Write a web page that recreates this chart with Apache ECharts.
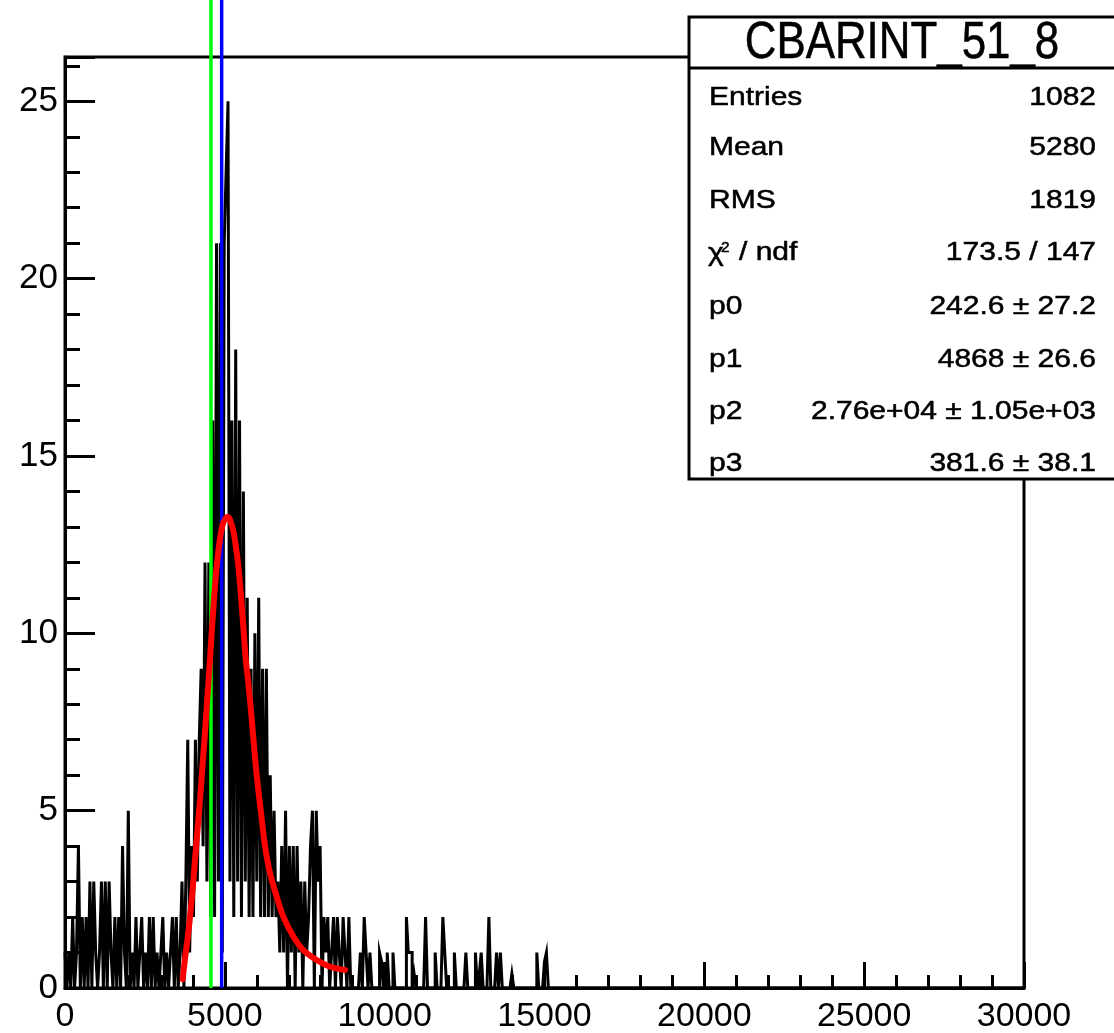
<!DOCTYPE html>
<html>
<head>
<meta charset="utf-8">
<script src="https://cdn.jsdelivr.net/npm/echarts@6/dist/echarts.min.js"></script>
<style>
html,body{margin:0;padding:0;background:#fff;}
#chart{width:1114px;height:1033px;}
</style>
</head>
<body>
<div id="chart"></div>
<script>
// ---- data ----
const binWidth = 60;
const countsLow = [1,0,1,0,2,0,1,4,0,2, 0,2,0,3,0,3,1,0,1,3, 0,3,0,3,1,0,2,0,2,0, 4,1,0,5,0,1,0,2,0,1, 2,0,1,0,2,0,2,0,1,0, 1,2,0,1,0,1,2,0,2,0];
const countsPeak = [1,3,0,3,7,1,4,2,7,3, 7,9,4,12,3,12,2,16,2,21, 3,21,1,21,23,25,3,16,2,18, 3,16,2,14,3,11,2,9,2,10, 3,11,2,9,2,9,2,6,2,5, 2];
const countsMid = [3,1,4,1,5,0,4,1,4,0, 4,1,3,0,3,1,2,4,5,0, 5,3,4,0,2,1,2,0,1,2, 0,2,1,0,2,1,0,2,0,0, 0,0,0,1,0,2,1,0,1,0];
const countsTail = [0,0,0,1,0.75,0,0,1,0,0, 1,0,0,0,0,0,0,2,1,1, 0,0.4,0,0,0,0,0,2,0,0, 0,0,1,0,0,0,2,1,0,0, 0,0,1,0,0,0,0,0,1,0, 0,0,0,1,0,0.4,1,0,0,0, 2,0,0,0,1,0,1,0,0,0, 0,0,0.4,0,0,0,0,0,0,0, 0,0,0,0,0,1,0,0,0,0.75, 1,0];

const fitX = [3680,3750,3830,3910,3990,4066,4145,4223,4300,4379,4458,4536,4614,4692,4770,4848,4927,5005,5070,5140,5200,5265,5345,5422,5500,5578,5656,5735,5840,5943,6045,6150,6256,6413,6621,6830,7143,7455,7872,8289,8758];
const fitY = [0.25,0.8,1.35,2.0,2.75,3.6,4.45,5.3,6.25,7.2,8.25,9.27,10.35,11.34,12.1,12.66,13.05,13.22,13.28,13.25,13.1,12.9,12.45,11.9,11.1,10.2,9.25,8.6,7.6,6.5,5.6,4.8,4.0,3.24,2.58,2.01,1.45,1.07,0.79,0.6,0.51];

const markerLines = [4567, 4901];

const xMin = 0, xMax = 30000, xStep = 5000;
const yMin = 0, yMax = 26.25, yStep = 5;

const statsTitle = 'CBARINT_51_8';
const statNames = ['Entries','Mean','RMS','CHI','p0','p1','p2','p3'];
const statValues = ['1082','5280','1819','173.5 / 147','242.6 \u00b1 27.2','4868 \u00b1 26.6','2.76e+04 \u00b1 1.05e+03','381.6 \u00b1 38.1'];

// ---- build ----
const counts = countsLow.concat(countsPeak, countsMid, countsTail);
const histPts = counts.map((v, i) => [i * binWidth, v]);
histPts.push([counts.length * binWidth, 0]);
histPts.push([xMax, 0]);
const fitPts = fitX.map((x, i) => [x, fitY[i]]);

const FONT = "'Liberation Sans', Arial, Helvetica, sans-serif";
const markerColors = ['#00ff00', '#0000ff'];

const chart = echarts.init(document.getElementById('chart'), null, {renderer: 'canvas'});

const rowY = [98, 148, 201, 253, 307, 360, 412, 464];
const txt = (text, x, y, size, align, sx) => ({type:'text', z:102, x:x, y:y, scaleX:sx,
  style:{text:text, fontSize:size, fontFamily:FONT, fill:'#000', stroke:'#000', lineWidth:0.5,
         textAlign:align, textVerticalAlign:'middle', align:align, verticalAlign:'middle'}});
const graphics = [
  {type:'rect', z:100, shape:{x:689, y:17, width:440, height:462},
   style:{fill:'#fff', stroke:'#000', lineWidth:3}},
  {type:'line', z:101, shape:{x1:689, y1:68, x2:1120, y2:68}, style:{stroke:'#000', lineWidth:3}},
  txt(statsTitle, 902, 44, 51, 'center', 0.86)
];
statNames.forEach((n, i) => {
  if (n === 'CHI') {
    graphics.push(txt('\u03c7', 708, rowY[i] + 1, 25, 'left', 1.2));
    graphics.push(txt('2', 721, rowY[i] - 5, 14, 'left', 1.1));
    graphics.push(txt('/ ndf', 739, rowY[i], 25, 'left', 1.2));
  } else {
    graphics.push(txt(n, 709, rowY[i], 25, 'left', 1.2));
  }
  graphics.push(txt(statValues[i], 1096, rowY[i], 25, 'right', 1.2));
});

const option = {
  animation: false,
  backgroundColor: '#fff',
  grid: {left:65, top:57, right:90, bottom:45, containLabel:false, outerBoundsMode:'none',
         show:true, borderColor:'#000', borderWidth:3, backgroundColor:'#fff'},
  xAxis: {
    type:'value', min:xMin, max:xMax, interval:xStep,
    axisLine:{show:true, onZero:false, lineStyle:{color:'#000', width:3}},
    axisTick:{show:true, inside:true, length:26, lineStyle:{color:'#000', width:3}},
    minorTick:{show:true, splitNumber:5, length:13, lineStyle:{color:'#000', width:3}},
    splitLine:{show:false},
    axisLabel:{show:true, margin:12, fontSize:34, fontFamily:FONT, color:'#000', showMinLabel:true, showMaxLabel:true,
      formatter: v => String(Math.round(v))}
  },
  yAxis: [
    {
      type:'value', min:yMin, max:yMax, interval:yStep, position:'left',
      axisLine:{show:true, onZero:false, lineStyle:{color:'#000', width:3}},
      axisTick:{show:true, inside:true, length:30, lineStyle:{color:'#000', width:3}},
      splitLine:{show:false},
      axisLabel:{show:true, margin:7, fontSize:35, fontFamily:FONT, color:'#000',
        formatter: v => (Math.abs(v / yStep - Math.round(v / yStep)) < 1e-6 ? String(Math.round(v)) : '')}
    },
    {
      type:'value', min:yMin, max:yMax, interval:1, position:'left', offset:0,
      axisLine:{show:false},
      axisTick:{show:true, inside:true, length:15, lineStyle:{color:'#000', width:3}},
      splitLine:{show:false},
      axisLabel:{show:false}
    }
  ],
  graphic: graphics,
  series: [
    {
      type:'line', name:'hist', step:'end', data:histPts, xAxisIndex:0, yAxisIndex:0,
      showSymbol:false, symbol:'none', z:2, sampling:null,
      lineStyle:{color:'#000', width:3, join:'miter'}
    },
    {
      type:'custom', name:'markers', xAxisIndex:0, yAxisIndex:0, clip:false, z:3,
      data: markerLines.map((x, i) => [x, i]),
      renderItem: (params, api) => {
        const p = api.coord([api.value(0), 0]);
        return {type:'line', shape:{x1:p[0], y1:0, x2:p[0], y2:p[1]},
                style:{stroke:markerColors[api.value(1)], lineWidth:3.5}};
      }
    },
    {
      type:'line', name:'fit', data:fitPts, smooth:0.3, showSymbol:false, symbol:'none', z:4,
      lineStyle:{color:'#ff0000', width:6, cap:'round'}
    }
  ]
};
chart.setOption(option);
</script>
</body>
</html>
